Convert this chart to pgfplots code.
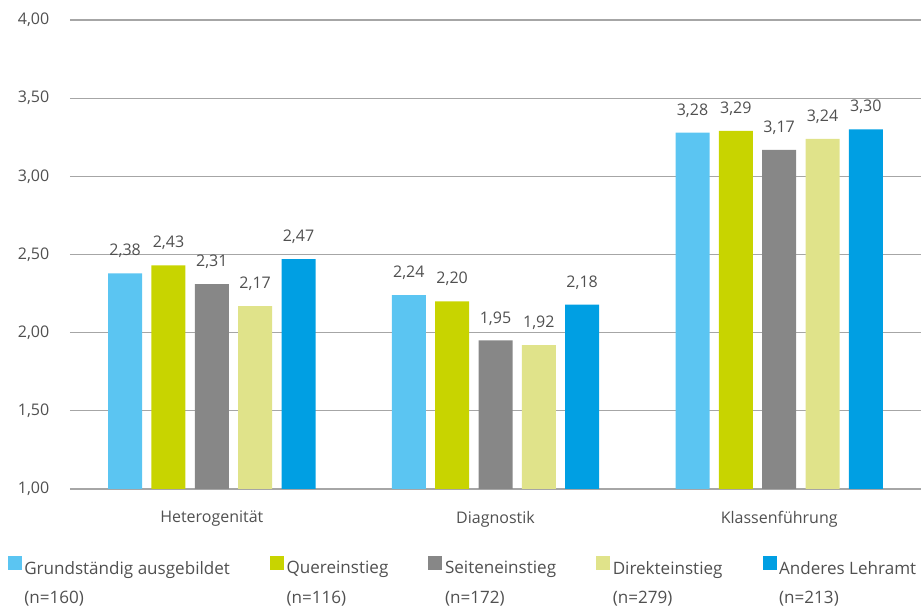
\documentclass[border=0pt]{standalone}
\usepackage{pgfplots}
\pgfplotsset{compat=1.18}
\usepackage{fontspec}
\setmainfont{Open Sans}
\definecolor{txt}{HTML}{505050}
\definecolor{gridc}{HTML}{A6A6A6}
\definecolor{cA}{HTML}{5BC5F2}
\definecolor{cB}{HTML}{C8D400}
\definecolor{cC}{HTML}{878787}
\definecolor{cD}{HTML}{E0E38A}
\definecolor{cE}{HTML}{009FE3}
\begin{document}
\begin{tikzpicture}[font=\fontsize{12}{14}\selectfont, text=txt]
\useasboundingbox (-52.5pt,-90pt) rectangle (638.25pt,366.75pt);
\begin{axis}[
  width=638.25pt, height=351.75pt, scale only axis,
  ybar=7pt, bar width=25.5pt,
  xmin=-0.5, xmax=2.5, ymin=1, ymax=4,
  xtick={0,1,2}, xticklabels={Heterogenität,Diagnostik,Klassenführung},
  ytick={1,1.5,...,4},
  axis x line=bottom, axis y line=left,
  axis line style={draw=none},
  major tick length=0pt,
  ymajorgrids, grid style={gridc, line width=0.8pt},
  /pgf/number format/.cd, fixed, fixed zerofill, precision=2, use comma, assume math mode=true,
  /pgfplots/.cd,
  yticklabel style={xshift=-12pt, text=txt},
  xticklabel style={yshift=-13pt, text=txt},
  nodes near coords,
  nodes near coords style={text=txt, yshift=8pt, /pgf/number format/.cd, fixed, fixed zerofill, precision=2, use comma, assume math mode=true},
  legend style={at={(0,0)}, anchor=north west, xshift=-50pt, yshift=-48pt, draw=none, fill=none,
    column sep=0pt, row sep=7pt, text=txt, font=\fontsize{12.8}{14}\selectfont,
    /tikz/every even column/.append style={column sep=28pt}},
  legend cell align=left,
  legend columns=5,
  legend image code/.code={\fill[#1] (0pt,-1pt) rectangle (10.5pt,9.5pt);},
]
\addplot[fill=cA, draw=none] coordinates {(0,2.38) (1,2.24) (2,3.28)};
\addlegendentry{Grundständig ausgebildet}
\addplot[fill=cB, draw=none] coordinates {(0,2.43) (1,2.20) (2,3.29)};
\addlegendentry{Quereinstieg}
\addplot[fill=cC, draw=none] coordinates {(0,2.31) (1,1.95) (2,3.17)};
\addlegendentry{Seiteneinstieg}
\addplot[fill=cD, draw=none] coordinates {(0,2.17) (1,1.92) (2,3.24)};
\addlegendentry{Direkteinstieg}
\addplot[fill=cE, draw=none] coordinates {(0,2.47) (1,2.18) (2,3.30)};
\addlegendentry{Anderes Lehramt}
\addlegendimage{empty legend}\addlegendentry{(n=160)}
\addlegendimage{empty legend}\addlegendentry{(n=116)}
\addlegendimage{empty legend}\addlegendentry{(n=172)}
\addlegendimage{empty legend}\addlegendentry{(n=279)}
\addlegendimage{empty legend}\addlegendentry{(n=213)}
\end{axis}
\end{tikzpicture}
\end{document}
